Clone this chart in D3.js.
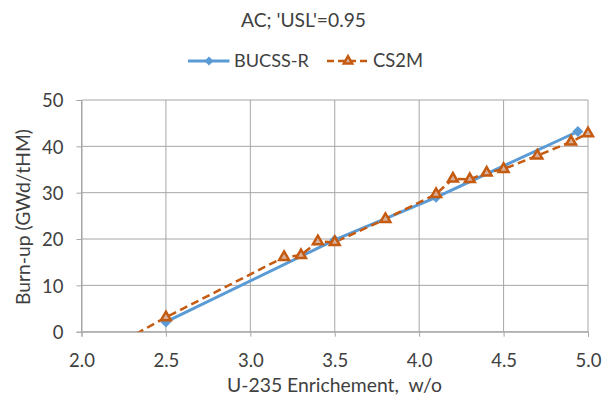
<!DOCTYPE html>
<html><head><meta charset="utf-8">
<script src="https://cdn.jsdelivr.net/npm/d3@7"></script>
<style>body{margin:0;background:#fff}svg{display:block}text{font-family:Lato,"Open Sans",sans-serif;fill:#404040;white-space:pre}</style>
</head><body>
<script>
const titleText = "AC; 'USL'=0.95";
const xLabel = "U-235 Enrichement,  w/o";
const yLabel = "Burn-up (GWd/tHM)";
const seriesNames = ["BUCSS-R", "CS2M"];
const bucssX = [2.5, 3.5, 4.1, 4.94];
const bucssY = [2.1, 19.8, 29.0, 43.2];
const cs2mX = [2.0, 2.5, 3.2, 3.3, 3.4, 3.5, 3.8, 4.1, 4.2, 4.3, 4.4, 4.5, 4.7, 4.9, 5.0];
const cs2mY = [-7.0, 3.1, 16.1, 16.5, 19.5, 19.3, 24.3, 29.7, 33.0, 32.9, 34.3, 35.1, 38.0, 41.0, 42.8];
const xTicks = [2.0, 2.5, 3.0, 3.5, 4.0, 4.5, 5.0];
const yTicks = [0, 10, 20, 30, 40, 50];

const W = 603, H = 403;
const svg = d3.select("body").append("svg").attr("width", W).attr("height", H);
const x = d3.scaleLinear().domain([2, 5]).range([81.5, 588]);
const y = d3.scaleLinear().domain([0, 50]).range([331.7, 100]);
const blue = "#5B9BD5", orange = "#C55A11", grid = "#A6A6A6";
const FS = 18.5;

function fit(sel, target) {
  const w = sel.node().getComputedTextLength();
  const fs = parseFloat(sel.attr("font-size"));
  sel.attr("font-size", fs * target / w);
  return sel;
}

// gridlines
svg.append("g").selectAll("line").data(yTicks).join("line")
  .attr("x1", x(2)).attr("x2", x(5)).attr("y1", d => y(d)).attr("y2", d => y(d))
  .attr("stroke", grid).attr("stroke-width", 1);
svg.append("g").selectAll("line").data(xTicks).join("line")
  .attr("y1", y(0)).attr("y2", y(50)).attr("x1", d => x(d)).attr("x2", d => x(d))
  .attr("stroke", grid).attr("stroke-width", 1);

// axes
const xAxis = svg.append("g").attr("transform", `translate(0,${y(0)})`)
  .call(d3.axisBottom(x).tickValues(xTicks).tickFormat(d3.format(".1f")).tickSize(5).tickPadding(10));
const yAxis = svg.append("g").attr("transform", `translate(${x(2)},0)`)
  .call(d3.axisLeft(y).tickValues(yTicks).tickSize(5).tickPadding(13));
[xAxis, yAxis].forEach(a => {
  a.select(".domain").attr("stroke", grid);
  a.selectAll(".tick line").attr("stroke", grid);
  a.selectAll(".tick text").attr("font-size", FS).attr("fill", "#404040").style("font-family", "Lato,'Open Sans',sans-serif");
});
xAxis.selectAll(".tick text").attr("dy", null).attr("y", 367 - y(0));
yAxis.selectAll(".tick text").attr("dy", "0.36em");

// clip
svg.append("clipPath").attr("id", "clip").append("rect")
  .attr("x", x(2) - 10).attr("y", y(50) - 10).attr("width", x(5) - x(2) + 20).attr("height", y(0) - y(50) + 10);
const plot = svg.append("g").attr("clip-path", "url(#clip)");

const line = d3.line().x(d => x(d[0])).y(d => y(d[1]));
const bData = bucssX.map((v, i) => [v, bucssY[i]]);
const cData = cs2mX.map((v, i) => [v, cs2mY[i]]);

plot.append("path").datum(bData).attr("d", line).attr("fill", "none")
  .attr("stroke", blue).attr("stroke-width", 3);
plot.append("path").datum(cData).attr("d", line).attr("fill", "none")
  .attr("stroke", orange).attr("stroke-width", 2.5).attr("stroke-dasharray", "8,4.5");

const diamond = d3.symbol().type(d3.symbolSquare).size(60);
const tri = d3.symbol().type(d3.symbolTriangle).size(42);
plot.selectAll(".bm").data(bData).join("path").attr("class", "bm")
  .attr("transform", d => `translate(${x(d[0])},${y(d[1])}) rotate(45)`).attr("d", diamond).attr("fill", blue);
plot.selectAll(".cm").data(cData).join("path").attr("class", "cm")
  .attr("transform", d => `translate(${x(d[0])},${y(d[1])})`).attr("d", tri)
  .attr("fill", "#D8B09A").attr("stroke", orange).attr("stroke-width", 2.5);

// title
fit(svg.append("text").attr("x", 303.5).attr("y", 27.3).attr("text-anchor", "middle").attr("font-size", FS).text(titleText), 125);
// axis labels
fit(svg.append("text").attr("x", 334.5).attr("y", 392).attr("text-anchor", "middle").attr("font-size", FS).text(xLabel), 215);
fit(svg.append("text").attr("transform", `translate(30,217) rotate(-90)`).attr("text-anchor", "middle").attr("font-size", FS).text(yLabel), 176);

// legend
const lg = svg.append("g");
lg.append("line").attr("x1", 188).attr("x2", 229.5).attr("y1", 61).attr("y2", 61).attr("stroke", blue).attr("stroke-width", 3);
lg.append("path").attr("transform", "translate(209,61) rotate(45)").attr("d", d3.symbol().type(d3.symbolSquare).size(40)()).attr("fill", blue);
fit(lg.append("text").attr("x", 234).attr("y", 66.7).attr("font-size", FS).text(seriesNames[0]), 75);
lg.append("line").attr("x1", 327).attr("x2", 369).attr("y1", 61).attr("y2", 61).attr("stroke", orange).attr("stroke-width", 2.5).attr("stroke-dasharray", "7,4");
lg.append("path").attr("transform", "translate(348,61)").attr("d", d3.symbol().type(d3.symbolTriangle).size(30)()).attr("fill", "#D8B09A").attr("stroke", orange).attr("stroke-width", 2.5);
fit(lg.append("text").attr("x", 373).attr("y", 66.7).attr("font-size", FS).text(seriesNames[1]), 50);
</script>
</body></html>
